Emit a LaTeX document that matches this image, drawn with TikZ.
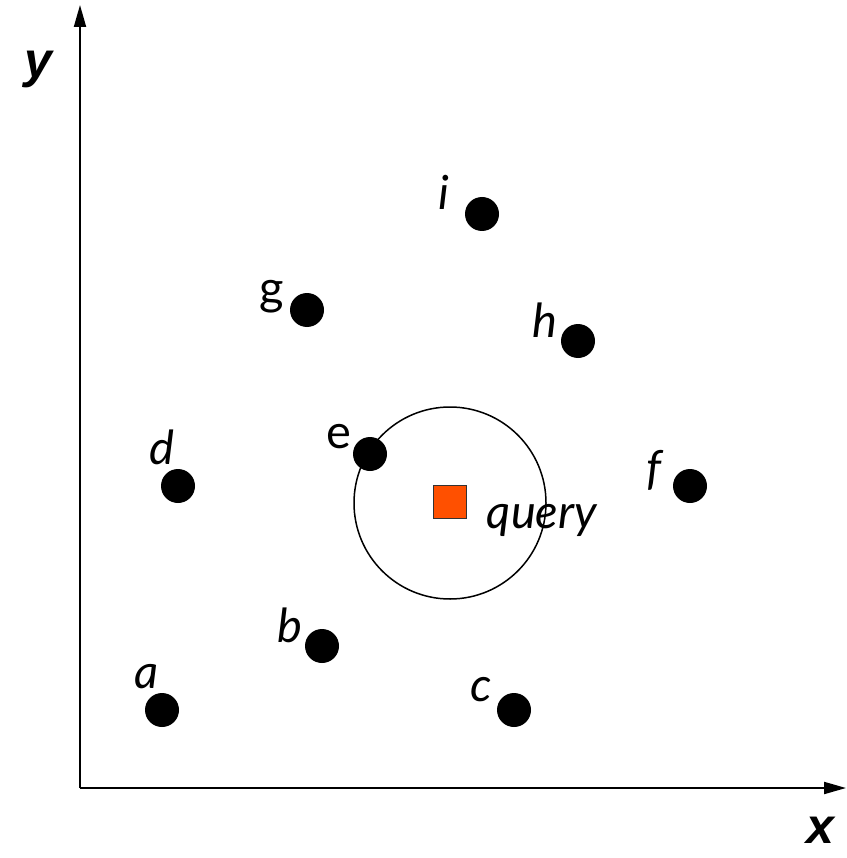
\documentclass[tikz,border=0pt]{standalone}
\usepackage{fontspec}
\setmainfont{Lato}
\newfontfamily\axisfont{Liberation Sans}
\usetikzlibrary{arrows.meta}
\begin{document}
\begin{tikzpicture}[x=1pt,y=-1pt,
  pt/.style={circle,fill=black,inner sep=0pt,minimum size=34pt},
  lbl/.style={font=\fontsize{47}{52}\selectfont\itshape,inner sep=0pt},
  ulbl/.style={font=\fontsize{47}{52}\selectfont,inner sep=0pt},
  axlbl/.style={font=\axisfont\fontsize{50}{56}\selectfont\bfseries\itshape,inner sep=0pt},
  axis/.style={line width=2pt,-{Triangle[length=22pt,width=12pt]}}]
\useasboundingbox (0,0) rectangle (846,858);
\coordinate (o) at (80,788);
\coordinate (ytip) at (80,5);
\coordinate (xtip) at (846,788);
\draw[axis] (o) -- (ytip);
\draw[axis] (o) -- (xtip);
\node[axlbl] (ylab) at (38,69) {y};
\node[axlbl] (xlab) at (820,830) {x};
\node[draw,circle,line width=1.5pt,minimum size=192pt,inner sep=0pt] (range) at (450,503) {};
\node[draw=black!80,fill={rgb,255:red,255;green,80;blue,0},line width=1pt,minimum size=33pt,inner sep=0pt] (q) at (450,502) {};
\node[lbl] (ql) at (542,520) {query};
\node[pt] (i) at (482,214) {};
\node[pt] (g) at (307,310) {};
\node[pt] (h) at (578,341) {};
\node[pt] (e) at (370,454) {};
\node[pt] (d) at (178,486) {};
\node[pt] (f) at (690,486) {};
\node[pt] (b) at (322,646) {};
\node[pt] (a) at (162,710) {};
\node[pt] (c) at (514,710) {};
\node[lbl] (il) at (444,192) {i};
\node[ulbl] (gl) at (272,297) {g};
\node[lbl] (hl) at (545,320) {h};
\node[ulbl] (el) at (339,437) {e};
\node[lbl] (dl) at (162,447) {d};
\node[lbl] (fl) at (654,470) {f};
\node[lbl] (bl) at (290,625) {b};
\node[lbl] (al) at (147,677) {a};
\node[lbl] (cl) at (481,690) {c};
\end{tikzpicture}
\end{document}
